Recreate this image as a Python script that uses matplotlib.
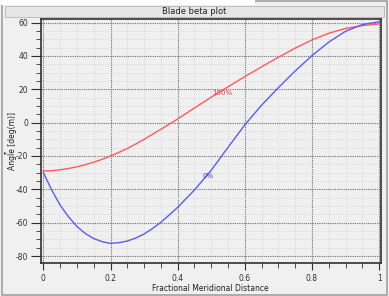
import matplotlib
matplotlib.use("Agg")
import matplotlib.pyplot as plt
from matplotlib.patches import Rectangle
from matplotlib.ticker import MultipleLocator

plt.rcParams["axes.unicode_minus"] = False

# Distance méridienne (fraction) et angles
x_dist = [0, 0.025, 0.05, 0.075, 0.1, 0.125, 0.15, 0.175, 0.2, 0.225, 0.25, 0.275, 0.3,
          0.325, 0.35, 0.4, 0.45, 0.5, 0.55, 0.6, 0.65, 0.7, 0.75, 0.8, 0.85, 0.9,
          0.95, 1.0]
beta_hub = [-30, -40.5, -49.5, -56.5, -62.3, -66.5, -69.5, -71.4, -72.4, -72.0, -71.0,
            -69.2, -66.8, -63.5, -59.8, -50.8, -40.4, -28.5, -14.8, -1.3, 10.5, 21.0,
            31.0, 40.2, 48.3, 54.8, 58.8, 60.5]
beta_shroud = [-29, -28.8, -28.3, -27.5, -26.5, -25.2, -23.7, -22.0, -20, -17.8, -15.5,
               -12.8, -10.0, -7.0, -4.0, 2.2, 8.8, 15.3, 21.5, 27.6, 33.5, 39.2, 44.7,
               49.6, 53.6, 56.5, 58.2, 59.2]
label_hub = "0%"
label_shroud = "100%"

fig = plt.figure(figsize=(3.89, 2.96), dpi=100)
fig.patch.set_facecolor("#f0f0f0")

# cadre de la fenêtre et barre de titre
fig.patches.append(Rectangle((0.004, 0.004), 0.992, 0.992, transform=fig.transFigure,
                             fill=False, edgecolor="#a0a0a0", linewidth=1.2))
fig.patches.append(Rectangle((0.0, 0.982), 0.655, 0.018, transform=fig.transFigure,
                             facecolor="#ffffff", edgecolor="none"))
fig.patches.append(Rectangle((0.012, 0.943), 0.976, 0.038, transform=fig.transFigure,
                             facecolor="#e6e6e6", edgecolor="#b4b4b4", linewidth=0.6))
fig.text(0.5, 0.962, "Blade beta plot", ha="center", va="center", fontsize=6, color="#202020")

ax = fig.add_axes([0.1046, 0.1125, 0.8744, 0.8225])
ax.set_facecolor("#f0f0f0")

ax.plot(x_dist, beta_shroud, color="#ff5a5a", linewidth=1.0)
ax.plot(x_dist, beta_hub, color="#5a5aff", linewidth=1.0)

ax.text(0.534, 17.6, label_shroud, color="#e04040", fontsize=5, ha="center", va="center")
ax.text(0.491, -31.9, label_hub, color="#4040e0", fontsize=5, ha="center", va="center")

ax.set_xlim(-0.008, 1.005)
ax.set_ylim(-84, 62)
ax.xaxis.set_major_locator(MultipleLocator(0.2))
ax.xaxis.set_minor_locator(MultipleLocator(0.05))
ax.yaxis.set_major_locator(MultipleLocator(20))
ax.yaxis.set_minor_locator(MultipleLocator(5))
ax.set_xticks([0, 0.2, 0.4, 0.6, 0.8, 1.0])
ax.set_xticklabels(["0", "0.2", "0.4", "0.6", "0.8", "1"])

ax.grid(which="major", color="#707070", linestyle=(0, (1, 1)), linewidth=0.8)
ax.grid(which="minor", color="#d6d6d6", linestyle=(0, (1, 1)), linewidth=0.6)
ax.set_axisbelow(True)

ax.tick_params(axis="x", which="major", length=5, width=0.8, labelsize=5.5, colors="#303030", pad=3)
ax.tick_params(axis="y", which="major", length=7, width=0.8, labelsize=5.5, colors="#303030", pad=2)
ax.tick_params(which="minor", length=3.5, width=0.6, colors="#303030")
for s in ax.spines.values():
    s.set_color("#303030")
    s.set_linewidth(1.2)

ax.set_xlabel("Fractional Meridional Distance", fontsize=5.5, labelpad=1, color="#202020")
ax.set_ylabel("Angle [deg(m)]", fontsize=5.5, color="#202020")
ax.yaxis.set_label_coords(-0.07, 0.5)
fig.text(0.014, 0.483, "\u25b8", fontsize=4, color="#404040", ha="center", va="center")

fig.savefig("out.png", dpi=100, facecolor=fig.get_facecolor())
